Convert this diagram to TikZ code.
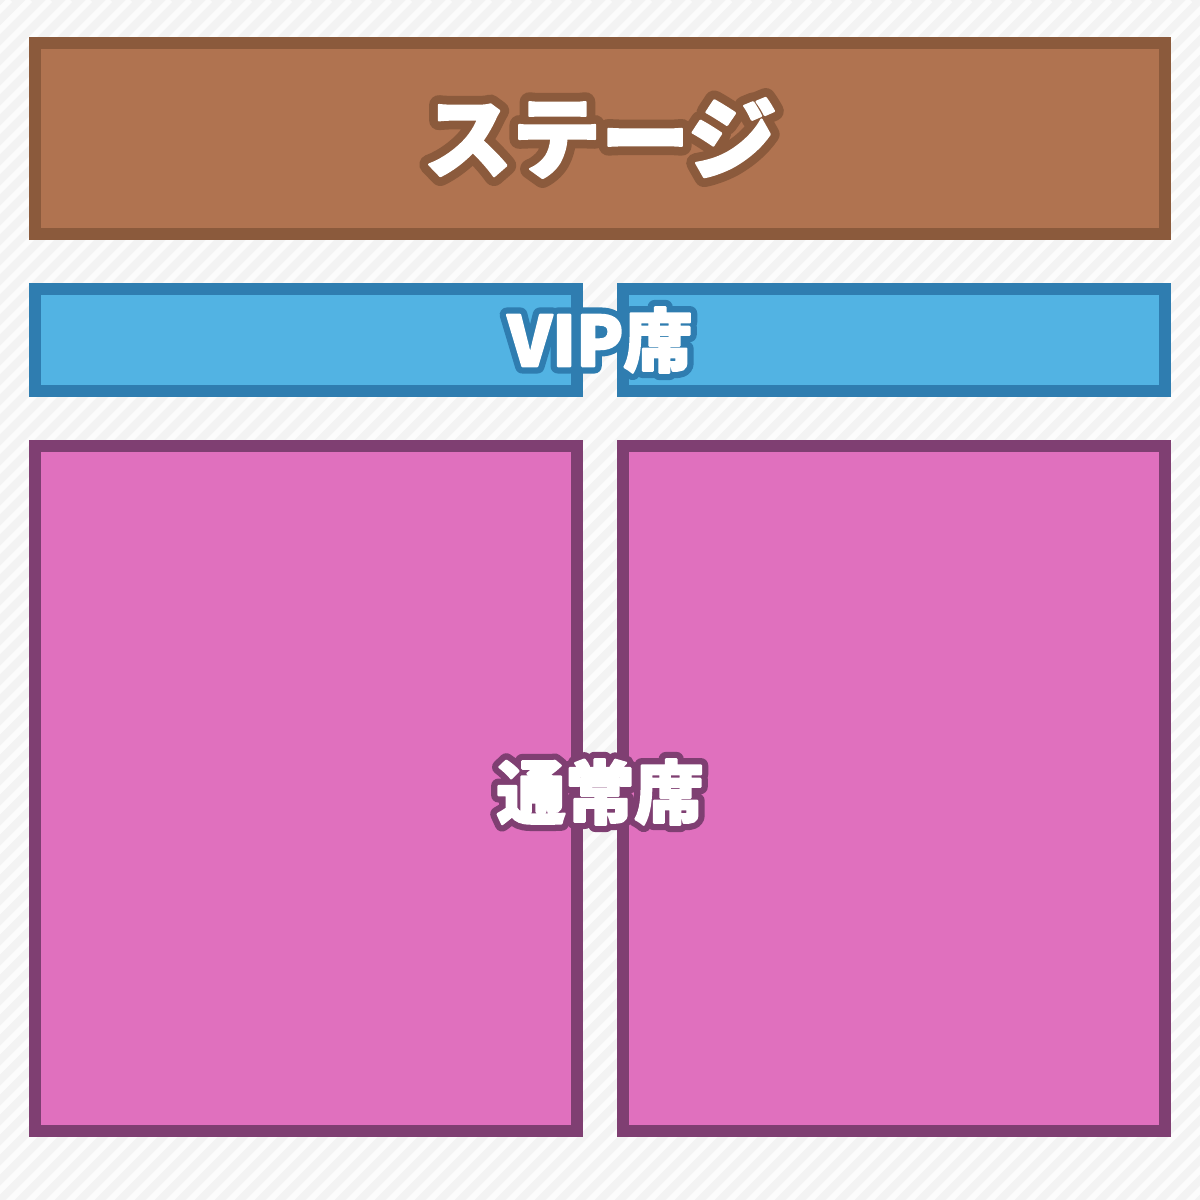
\documentclass[tikz,border=0pt]{standalone}
\usepackage{fontspec}
\IfFontExistsTF{Noto Sans CJK JP Black}
  {\newfontfamily\cjk{Noto Sans CJK JP Black}}
  {\newfontfamily\cjk{Noto Sans CJK JP}[UprightFont=* Bold]}
\definecolor{bgcol}{HTML}{F3F3F3}
\definecolor{stripecol}{HTML}{FCFCFC}
\definecolor{stagefill}{HTML}{B07350}
\definecolor{stageline}{HTML}{8B5A3C}
\definecolor{vipfill}{HTML}{52B3E3}
\definecolor{vipline}{HTML}{2F7DB0}
\definecolor{seatfill}{HTML}{E070BE}
\definecolor{seatline}{HTML}{7F3F72}
\newlength\px
\setlength\px{0.71132pt}
\tikzset{
  area/.style={draw, line width=12\px, inner sep=0pt, outer sep=0pt, anchor=center},
  stagebox/.style={area, fill=stagefill, draw=stageline},
  vipbox/.style={area, fill=vipfill, draw=vipline},
  seatbox/.style={area, fill=seatfill, draw=seatline},
  lbl/.style={font=\cjk, inner sep=0pt, anchor=center, text=white},
}
% #1 halo colour, #2 halo stroke width in bp, #3 text
\newcommand\halotext[3]{%
  \leavevmode\rlap{\color{#1}\special{pdf:literal direct 1 j 1 J #2 w 1 Tr}#3\special{pdf:literal direct 0 Tr}}%
  {\color{white}\special{pdf:literal direct 1 j 1 J 1.6 w 2 Tr}#3\special{pdf:literal direct 0 Tr}}}
\begin{document}
\begin{tikzpicture}[x=0.025cm, y=-0.025cm]
\useasboundingbox (0,0) rectangle (1200,1200);
\fill[bgcol] (0,0) rectangle (1200,1200);
\begin{scope}
  \clip (0,0) rectangle (1200,1200);
  \foreach \i in {-1220,-1200,...,1220}
    \draw[stripecol, line width=6\px] (\i,1210) -- (\i+1210,0);
\end{scope}
% stage
\node[stagebox, minimum width=1130\px, minimum height=191\px] (stage) at (600,138.5) {};
% VIP
\node[vipbox, minimum width=542\px, minimum height=102\px] (vipL) at (306,340) {};
\node[vipbox, minimum width=542\px, minimum height=102\px] (vipR) at (894,340) {};
% regular seats
\node[seatbox, minimum width=542\px, minimum height=685\px] (seatL) at (306,788.5) {};
\node[seatbox, minimum width=542\px, minimum height=685\px] (seatR) at (894,788.5) {};
% labels
\node[lbl] (stagetext) at (600,138) {\fontsize{63}{63}\selectfont\halotext{stageline}{14}{ステージ}};
\node[lbl] (viptext) at (600,340) {\fontsize{49}{49}\selectfont\halotext{vipline}{10.5}{VIP席}};
\node[lbl] (seattext) at (600,792) {\fontsize{49}{49}\selectfont\halotext{seatline}{10.5}{通常席}};
\end{tikzpicture}
\end{document}
